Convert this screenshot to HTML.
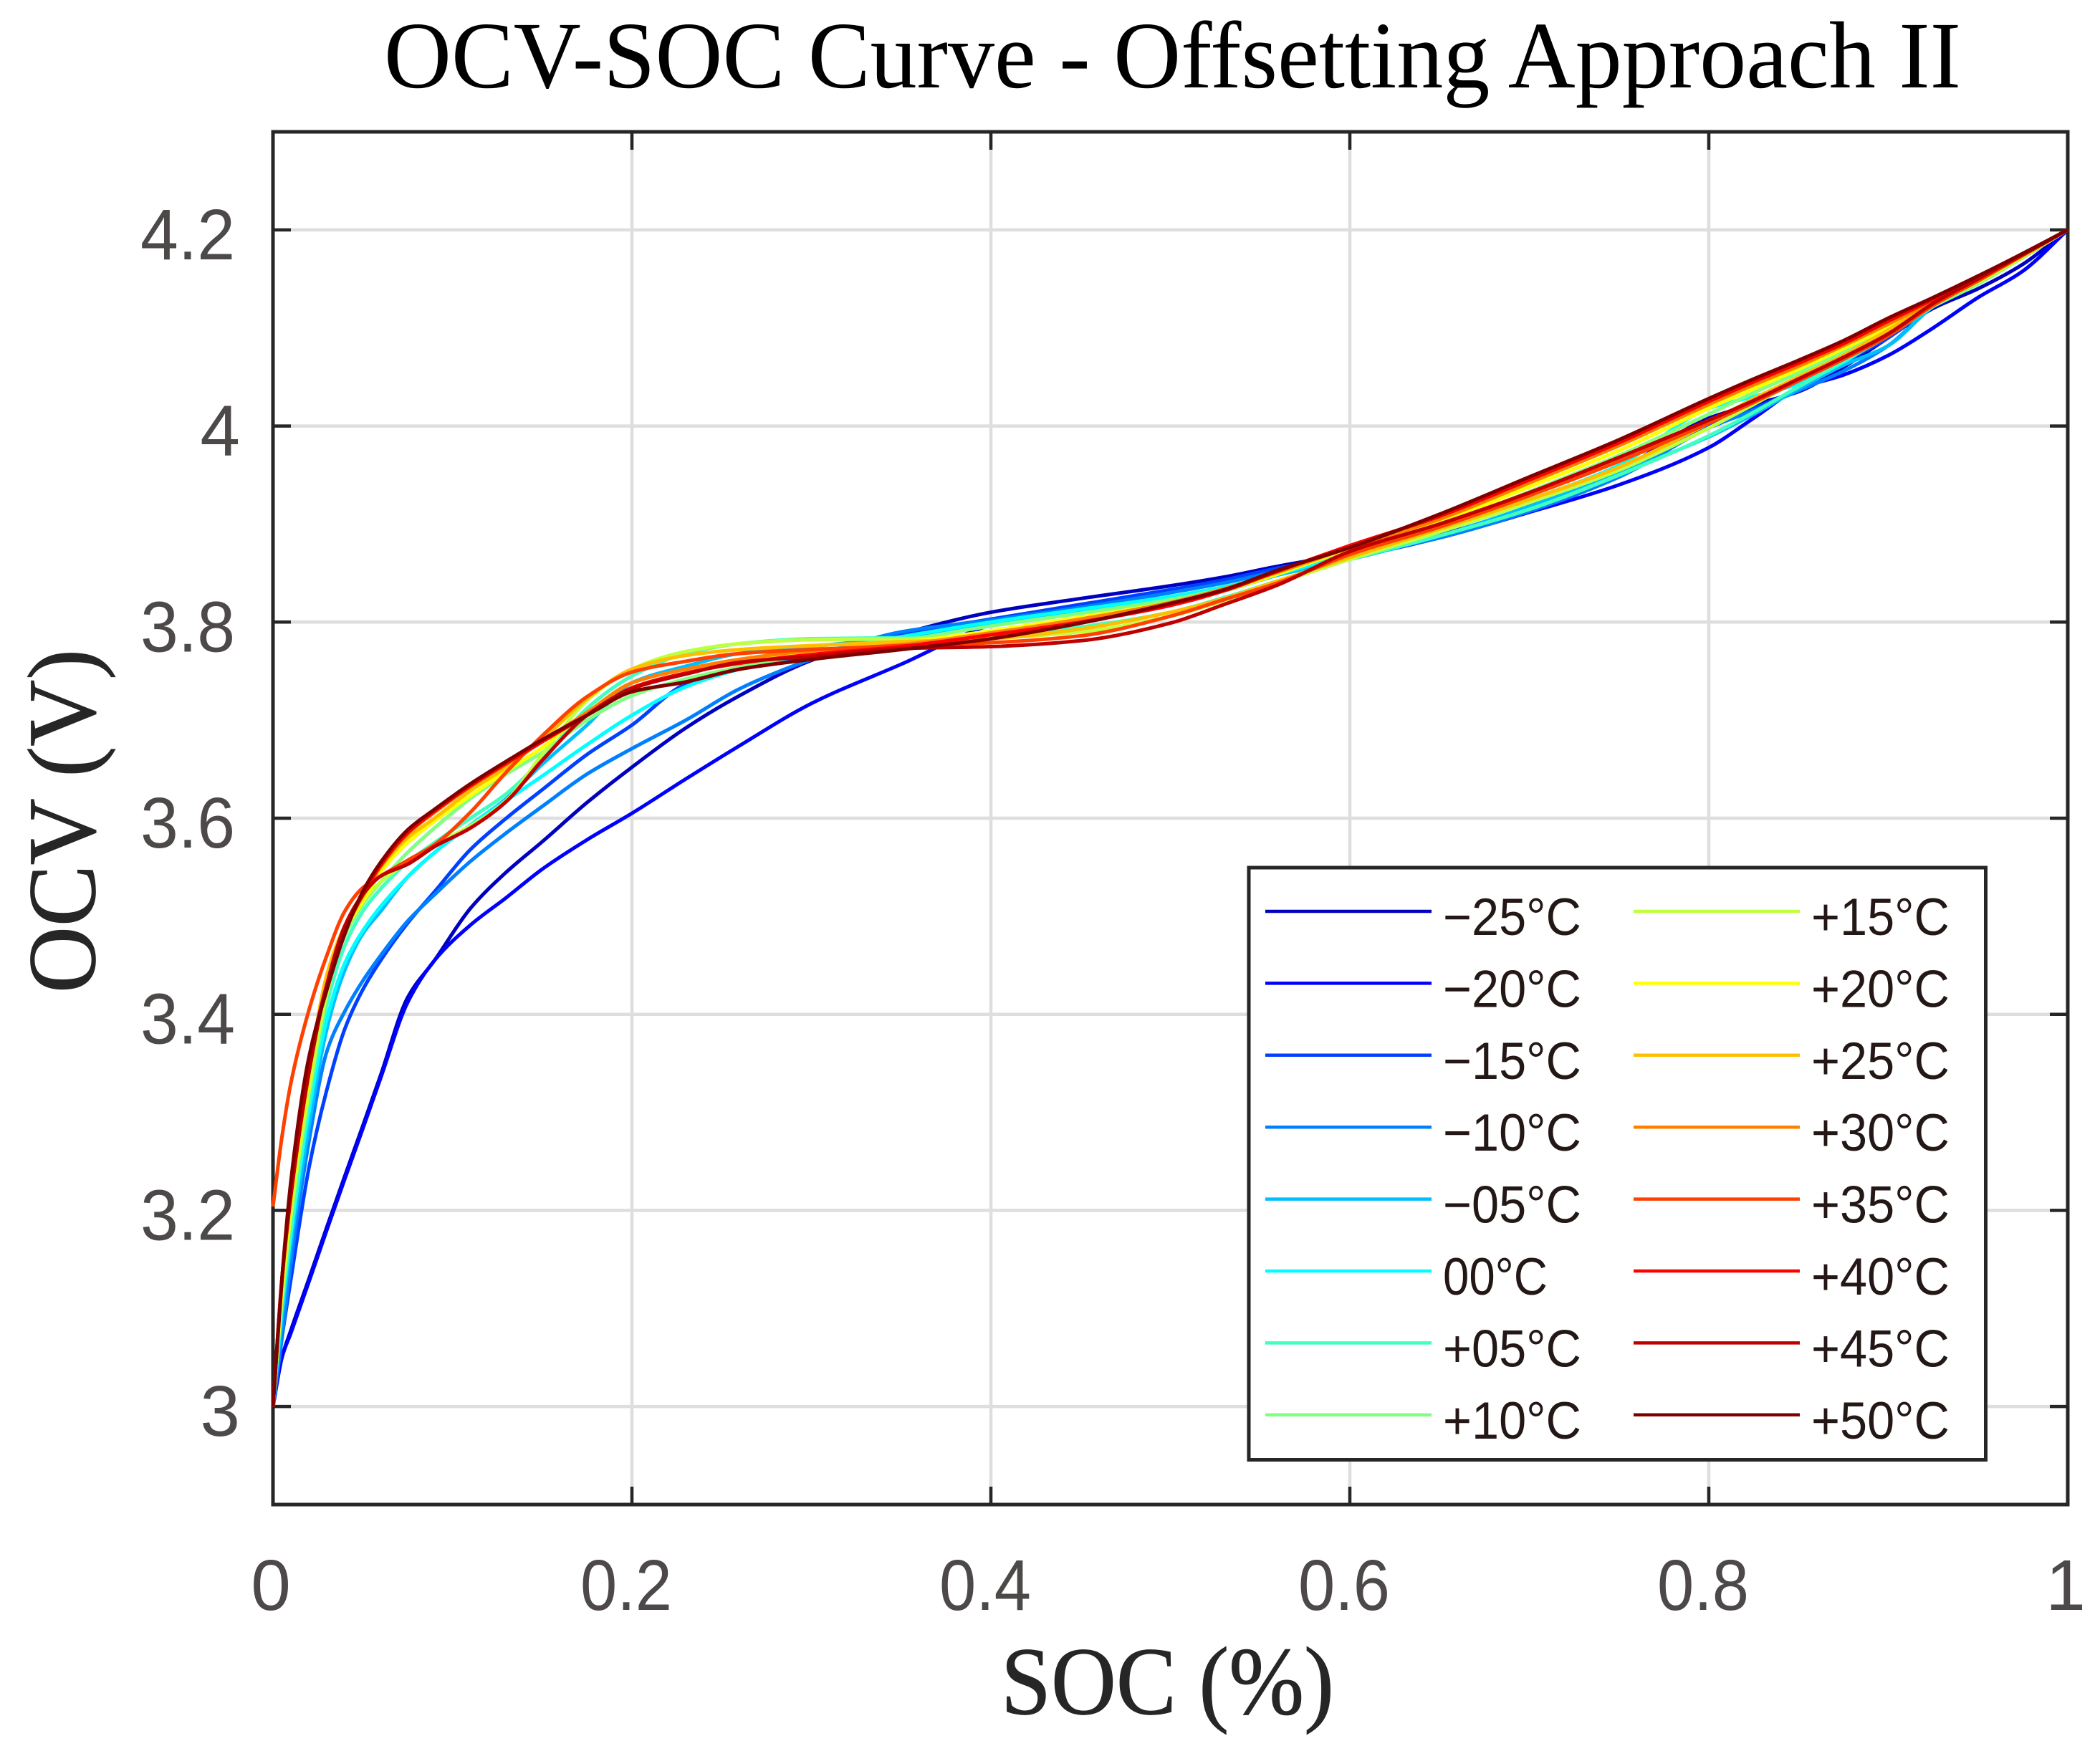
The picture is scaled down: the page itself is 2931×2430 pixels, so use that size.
<!DOCTYPE html>
<html>
<head>
<meta charset="utf-8">
<title>OCV-SOC Curve - Offsetting Approach II</title>
<style>
html,body{margin:0;padding:0;background:#fff;}
svg{display:block;}
text{font-family:"Liberation Sans",sans-serif;}
.serif{font-family:"Liberation Serif",serif;}
</style>
</head>
<body>
<svg id="chart" xmlns="http://www.w3.org/2000/svg" width="2931" height="2430" viewBox="0 0 2931 2430">
<rect x="0" y="0" width="2931" height="2430" fill="#ffffff"/>
<text class="serif" x="536" y="122" font-size="133" fill="#000000" textLength="2201" lengthAdjust="spacingAndGlyphs">OCV-SOC Curve - Offsetting Approach II</text>
<text class="serif" x="1397" y="2392" font-size="135" fill="#262626" stroke="#262626" stroke-width="1" textLength="465" lengthAdjust="spacingAndGlyphs">SOC (%)</text>
<text class="serif" transform="translate(132,1386) rotate(-90)" x="0" y="0" font-size="135" fill="#262626" stroke="#262626" stroke-width="1" textLength="480" lengthAdjust="spacingAndGlyphs">OCV (V)</text>
<g id="grid"></g>
<g id="ticks"></g>
<g id="tick-labels"></g>
<rect x="381" y="184" width="2505" height="1916" fill="none" stroke="#262626" stroke-width="5"/>
<g id="series"></g>
<g id="legend"></g>
</svg>
<script>
const xTicks = [0, 0.2, 0.4, 0.6, 0.8, 1];
const xTickLabels = ["0", "0.2", "0.4", "0.6", "0.8", "1"];
const yTicks = [3, 3.2, 3.4, 3.6, 3.8, 4, 4.2];
const yTickLabels = ["3", "3.2", "3.4", "3.6", "3.8", "4", "4.2"];
const socValues = [0,.005,.01,.02,.03,.04,.05,.06,.075,.09,
  .11,.13,.15,.175,.2,.23,.26,.3,.35,.4,
  .45,.5,.53,.56,.6,.65,.7,.75,.8,.825,
  .85,.875,.9,.925,.95,.975,1];
const ocvM25 = [3.0,3.05,3.078,3.13,3.183,3.235,3.286,3.338,3.417,3.455,
  3.508,3.545,3.576,3.616,3.652,3.692,3.725,3.761,3.788,3.81,
  3.824,3.837,3.846,3.857,3.87,3.889,3.918,3.955,4.008,4.022,
  4.035,4.06,4.09,4.12,4.14,4.165,4.2];
const ocvM20 = [3.0,3.05,3.075,3.127,3.18,3.232,3.283,3.335,3.412,3.455,
  3.491,3.519,3.548,3.578,3.605,3.64,3.674,3.717,3.757,3.797,
  3.816,3.832,3.843,3.855,3.866,3.886,3.912,3.94,3.978,4.008,
  4.038,4.052,4.072,4.1,4.131,4.158,4.2];
const ocvM15 = [3.0,3.07,3.13,3.243,3.323,3.385,3.425,3.455,3.493,3.525,
  3.568,3.6,3.629,3.665,3.695,3.737,3.753,3.766,3.788,3.803,
  3.818,3.833,3.843,3.855,3.868,3.888,3.915,3.95,4.0,4.018,
  4.038,4.065,4.09,4.124,4.147,4.172,4.2];
const ocvM10 = [3.0,3.07,3.147,3.27,3.362,3.403,3.434,3.46,3.495,3.522,
  3.556,3.585,3.612,3.645,3.671,3.7,3.732,3.762,3.79,3.802,
  3.815,3.83,3.84,3.852,3.867,3.886,3.913,3.948,3.998,4.016,
  4.036,4.056,4.082,4.122,4.148,4.173,4.2];
const ocvM05 = [3.0,3.09,3.165,3.285,3.385,3.445,3.482,3.505,3.54,3.565,
  3.593,3.62,3.655,3.695,3.738,3.755,3.768,3.775,3.785,3.797,
  3.81,3.822,3.832,3.848,3.864,3.888,3.918,3.952,3.989,4.012,
  4.038,4.062,4.082,4.122,4.15,4.175,4.2];
const ocvP00 = [3.0,3.1,3.175,3.3,3.395,3.452,3.485,3.51,3.54,3.565,
  3.593,3.618,3.643,3.675,3.705,3.734,3.752,3.768,3.785,3.8,
  3.813,3.826,3.836,3.849,3.87,3.897,3.925,3.96,4.018,4.03,
  4.043,4.065,4.095,4.125,4.15,4.175,4.2];
const ocvP05 = [3.0,3.105,3.18,3.31,3.41,3.47,3.505,3.528,3.555,3.575,
  3.6,3.625,3.66,3.712,3.745,3.768,3.778,3.783,3.784,3.786,
  3.795,3.81,3.825,3.842,3.864,3.888,3.915,3.95,3.99,4.014,
  4.04,4.066,4.092,4.122,4.148,4.174,4.2];
const ocvP10 = [3.0,3.115,3.2,3.325,3.425,3.48,3.512,3.535,3.565,3.59,
  3.62,3.645,3.667,3.7,3.725,3.742,3.754,3.768,3.781,3.796,
  3.809,3.823,3.834,3.85,3.873,3.898,3.933,3.97,4.012,4.034,
  4.054,4.075,4.098,4.122,4.145,4.172,4.2];
const ocvP15 = [3.0,3.11,3.195,3.32,3.42,3.485,3.515,3.535,3.555,3.573,
  3.592,3.618,3.665,3.72,3.752,3.77,3.778,3.782,3.783,3.784,
  3.79,3.806,3.822,3.84,3.864,3.892,3.922,3.955,3.998,4.022,
  4.047,4.07,4.096,4.125,4.15,4.175,4.2];
const ocvP20 = [3.0,3.12,3.21,3.335,3.435,3.485,3.515,3.545,3.575,3.597,
  3.623,3.648,3.672,3.708,3.732,3.748,3.76,3.77,3.779,3.791,
  3.805,3.82,3.832,3.849,3.875,3.902,3.938,3.975,4.018,4.038,
  4.058,4.079,4.101,4.125,4.147,4.173,4.2];
const ocvP25 = [3.0,3.125,3.215,3.34,3.44,3.49,3.52,3.55,3.58,3.6,
  3.628,3.652,3.68,3.722,3.752,3.766,3.772,3.776,3.78,3.783,
  3.793,3.81,3.824,3.842,3.866,3.895,3.925,3.958,4.003,4.028,
  4.05,4.072,4.098,4.126,4.15,4.175,4.2];
const ocvP30 = [3.0,3.13,3.22,3.345,3.43,3.485,3.521,3.551,3.584,3.606,
  3.632,3.655,3.678,3.708,3.738,3.752,3.762,3.771,3.777,3.789,
  3.803,3.82,3.834,3.851,3.876,3.905,3.942,3.98,4.022,4.042,
  4.061,4.082,4.104,4.127,4.149,4.174,4.2];
const ocvP35 = [3.204,3.275,3.33,3.404,3.46,3.505,3.529,3.541,3.557,3.573,
  3.606,3.647,3.684,3.724,3.749,3.76,3.768,3.772,3.776,3.779,
  3.786,3.806,3.823,3.84,3.869,3.897,3.929,3.964,4.003,4.024,
  4.046,4.068,4.092,4.123,4.148,4.174,4.2];
const ocvP40 = [3.0,3.13,3.225,3.35,3.43,3.485,3.522,3.552,3.585,3.607,
  3.633,3.656,3.678,3.705,3.733,3.748,3.758,3.767,3.775,3.787,
  3.8,3.817,3.832,3.852,3.878,3.908,3.945,3.983,4.025,4.045,
  4.064,4.084,4.107,4.129,4.151,4.175,4.2];
const ocvP45 = [3.0,3.13,3.215,3.34,3.43,3.49,3.522,3.541,3.553,3.571,
  3.59,3.617,3.659,3.705,3.732,3.747,3.759,3.765,3.773,3.775,
  3.781,3.799,3.818,3.838,3.872,3.9,3.932,3.968,4.006,4.026,
  4.048,4.07,4.094,4.125,4.15,4.175,4.2];
const ocvP50 = [3.0,3.13,3.23,3.356,3.425,3.482,3.525,3.555,3.588,3.609,
  3.635,3.658,3.68,3.705,3.729,3.739,3.752,3.762,3.772,3.783,
  3.799,3.819,3.833,3.853,3.876,3.91,3.948,3.986,4.028,4.048,
  4.067,4.087,4.11,4.131,4.153,4.176,4.2];
const seriesValues = [ocvM25,ocvM20,ocvM15,ocvM10,ocvM05,ocvP00,ocvP05,ocvP10,ocvP15,ocvP20,ocvP25,ocvP30,ocvP35,ocvP40,ocvP45,ocvP50];
const seriesLabels = ["\u221225\u00b0C","\u221220\u00b0C","\u221215\u00b0C","\u221210\u00b0C","\u221205\u00b0C","00\u00b0C","+05\u00b0C","+10\u00b0C","+15\u00b0C","+20\u00b0C","+25\u00b0C","+30\u00b0C","+35\u00b0C","+40\u00b0C","+45\u00b0C","+50\u00b0C"];
const seriesColors = ["#0000bf","#0000ff","#0040ff","#0080ff","#00bfff","#00ffff","#40ffbf","#80ff80","#bfff40","#ffff00","#ffbf00","#ff8000","#ff4000","#ff0000","#bf0000","#800000"];

const NS = "http://www.w3.org/2000/svg";
const PLOT = {left:381, right:2886, top:184, bottom:2100};
const X_MIN = 0, X_MAX = 1, Y_MIN = 2.9, Y_MAX = 4.3;
function xScale(v){ return PLOT.left + (v - X_MIN) / (X_MAX - X_MIN) * (PLOT.right - PLOT.left); }
function yScale(v){ return PLOT.bottom - (v - Y_MIN) / (Y_MAX - Y_MIN) * (PLOT.bottom - PLOT.top); }
function make(tag, attrs, parent){
  const el = document.createElementNS(NS, tag);
  for (const k in attrs) el.setAttribute(k, attrs[k]);
  parent.appendChild(el);
  return el;
}
function curvePath(xs, ys){
  const n = xs.length, slope = [];
  for (let i = 0; i < n; i++){
    if (i === 0){ slope.push((ys[1] - ys[0]) / (xs[1] - xs[0])); continue; }
    if (i === n - 1){ slope.push((ys[i] - ys[i - 1]) / (xs[i] - xs[i - 1])); continue; }
    const h0 = xs[i] - xs[i - 1], h1 = xs[i + 1] - xs[i];
    const d0 = (ys[i] - ys[i - 1]) / h0, d1 = (ys[i + 1] - ys[i]) / h1;
    if (d0 * d1 <= 0){ slope.push(0); continue; }
    const w1 = 2 * h1 + h0, w2 = h1 + 2 * h0;
    slope.push((w1 + w2) / (w1 / d0 + w2 / d1));
  }
  let d = "M" + xScale(xs[0]).toFixed(2) + " " + yScale(ys[0]).toFixed(2);
  for (let i = 0; i < n - 1; i++){
    const h = (xs[i + 1] - xs[i]) / 3;
    d += " C" + xScale(xs[i] + h).toFixed(2) + " " + yScale(ys[i] + slope[i] * h).toFixed(2) +
      " " + xScale(xs[i + 1] - h).toFixed(2) + " " + yScale(ys[i + 1] - slope[i + 1] * h).toFixed(2) +
      " " + xScale(xs[i + 1]).toFixed(2) + " " + yScale(ys[i + 1]).toFixed(2);
  }
  return d;
}

const gridG = document.getElementById("grid");
const ticksG = document.getElementById("ticks");
const labelsG = document.getElementById("tick-labels");
const TICK_LEN = 25, TICK_COLOR = "#262626", LABEL_COLOR = "#4c4948";

xTicks.forEach(function(t, i){
  const x = xScale(t);
  if (t > X_MIN && t < X_MAX){
    const g = make("line", {x1:x, x2:x, y1:PLOT.top, y2:PLOT.bottom, stroke:"#dedede", "stroke-width":4.5}, gridG);
    
    
    const t1 = make("line", {x1:x, x2:x, y1:PLOT.bottom, y2:PLOT.bottom - TICK_LEN, stroke:TICK_COLOR, "stroke-width":4.5}, ticksG);
    
    
    const t2 = make("line", {x1:x, x2:x, y1:PLOT.top, y2:PLOT.top + TICK_LEN, stroke:TICK_COLOR, "stroke-width":4.5}, ticksG);
    
    
  }
  const str = xTickLabels[i];
  const lab = make("text", {x:x - (str.length > 1 ? 8 : 3), y:2247, "font-size":100, fill:LABEL_COLOR, "text-anchor":"middle"}, labelsG);
  if (str.length > 1){ lab.setAttribute("textLength", 128); lab.setAttribute("lengthAdjust", "spacingAndGlyphs"); }
  lab.textContent = str;
  
  
});

yTicks.forEach(function(t, i){
  const y = yScale(t);
  const g = make("line", {x1:PLOT.left, x2:PLOT.right, y1:y, y2:y, stroke:"#dedede", "stroke-width":4.5}, gridG);
  
  
  const t1 = make("line", {x1:PLOT.left, x2:PLOT.left + TICK_LEN, y1:y, y2:y, stroke:TICK_COLOR, "stroke-width":4.5}, ticksG);
  
  
  const t2 = make("line", {x1:PLOT.right, x2:PLOT.right - TICK_LEN, y1:y, y2:y, stroke:TICK_COLOR, "stroke-width":4.5}, ticksG);
  
  
  const str = yTickLabels[i];
  const lab = make("text", {x:str.length > 1 ? 328 : 335, y:y + 41, "font-size":100, fill:LABEL_COLOR, "text-anchor":"end"}, labelsG);
  if (str.length > 1){ lab.setAttribute("textLength", 132); lab.setAttribute("lengthAdjust", "spacingAndGlyphs"); }
  lab.textContent = str;
  
  
});

const seriesG = document.getElementById("series");
seriesValues.forEach(function(vals, i){
  const p = make("path", {d:curvePath(socValues, vals), fill:"none", stroke:seriesColors[i], "stroke-width":5, "stroke-linejoin":"round"}, seriesG);
  
  
});

const legendG = document.getElementById("legend");
const box = make("rect", {x:1743, y:1211, width:1028.5, height:826.5, fill:"#ffffff", stroke:"#262626", "stroke-width":5}, legendG);


const LEGEND_ROW0 = 1272, LEGEND_STEP = 100.4;
seriesLabels.forEach(function(label, i){
  const col = i < 8 ? 0 : 1;
  const row = i % 8;
  const y = LEGEND_ROW0 + row * LEGEND_STEP;
  const x0 = col === 0 ? 1766 : 2280;
  const sw = make("line", {x1:x0, x2:x0 + 232, y1:y, y2:y, stroke:seriesColors[i], "stroke-width":4.5}, legendG);
  
  
  const tx = make("text", {x:x0 + 248, y:y + 33, "font-size":73, fill:"#231815", textLength:label.length > 4 ? 193 : 146, lengthAdjust:"spacingAndGlyphs"}, legendG);
  tx.textContent = label;
  
  
});
</script>
</body>
</html>
